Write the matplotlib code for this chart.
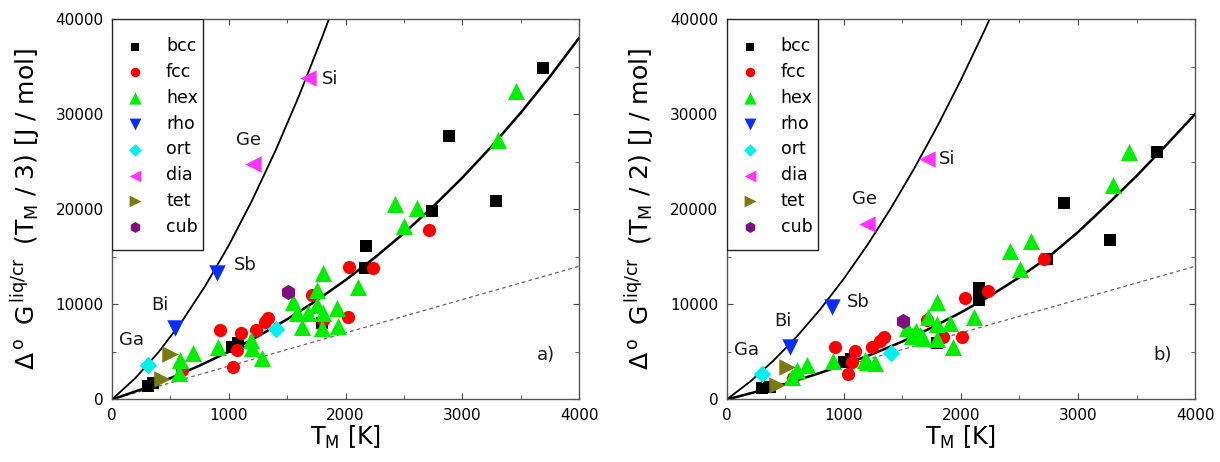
import matplotlib
matplotlib.use("Agg")
import matplotlib.pyplot as plt
from matplotlib.patches import Rectangle
from matplotlib.ticker import MultipleLocator

plt.rcParams["font.family"] = ["DejaVu Sans"]
plt.rcParams["mathtext.default"] = "regular"

# ---- panel a) : Delta G at T_M / 3 ----
bcc_a_T = [311, 354, 1025, 1082, 1796, 2167, 2173, 2738, 2889, 3286, 3689]
bcc_a_G = [1450, 1700, 5540, 5890, 7990, 13870, 16100, 19810, 27680, 20900, 34860]
fcc_a_T = [597, 925, 1039, 1068, 1105, 1231, 1311, 1339, 1713, 1810, 2024, 2033, 2233, 2718]
fcc_a_G = [3100, 7290, 3400, 5190, 6950, 7290, 8160, 8520, 11000, 8340, 8690, 13935, 13870, 17790]
hex_a_T = [577, 582, 691, 911, 1188, 1196, 1288, 1553, 1753, 1810, 1753, 1582, 1682, 1804,
           1930, 1625, 1796, 1939, 2110, 2424, 2610, 2501, 3309, 3460]
hex_a_G = [2810, 4150, 4840, 5540, 6240, 5370, 4320, 10270, 11490, 13310, 9920, 9040, 9040, 9040,
           9570, 7640, 7470, 7750, 11840, 20580, 20160, 18200, 27230, 32480]
rho_a_T = [539, 896]
rho_a_G = [7470, 13300]
ort_a_T = [308, 1404]
ort_a_G = [3580, 7420]
dia_a_T = [1210, 1681]
dia_a_G = [24800, 33840]
tet_a_T = [497, 425]
tet_a_G = [4750, 2170]
cub_a_T = [1510]
cub_a_G = [11310]

# ---- panel b) : Delta G at T_M / 2 ----
bcc_b_T = [299, 370, 1002, 1060, 1796, 2158, 2158, 2733, 2878, 3274, 3673]
bcc_b_G = [1180, 1340, 3970, 4300, 5950, 11770, 10440, 14810, 20620, 16740, 26000]
fcc_b_T = [570, 925, 1039, 1067, 1096, 1240, 1311, 1339, 1708, 1850, 2007, 2036, 2235, 2710]
fcc_b_G = [2300, 5480, 2680, 3970, 5120, 5480, 6150, 6530, 8340, 6590, 6590, 10620, 11420, 14810]
hex_b_T = [560, 598, 689, 905, 1181, 1200, 1270, 1537, 1580, 1620, 1651, 1679, 1722, 1794,
           1794, 1794, 1907, 1935, 2110, 2420, 2505, 2599, 3302, 3439]
hex_b_G = [2400, 3100, 3620, 4070, 4200, 3900, 3800, 7500, 6700, 7200, 6770, 6420, 8690, 7900,
           6400, 10270, 8000, 5540, 8690, 15610, 13770, 16660, 22510, 26000]
rho_b_T = [541, 897]
rho_b_G = [5540, 9740]
ort_b_T = [304, 1402]
ort_b_G = [2680, 4910]
dia_b_T = [1196, 1708]
dia_b_G = [18490, 25310]
tet_b_T = [512, 432]
tet_b_G = [3440, 1520]
cub_b_T = [1508]
cub_b_G = [8270]

# ---- fitted curves ----
curve_T = [0, 250, 500, 750, 1000, 1250, 1500, 1750, 2000, 2250, 2500, 2750, 3000,
           3250, 3500, 3750, 4000]
lower_a_G = [0, 1060, 2240, 3560, 5020, 6640, 8430, 10390, 12550, 14910, 17480, 20280,
             23310, 26590, 30130, 33930, 38000]
lower_b_G = [0, 800, 1650, 2600, 3650, 4800, 6100, 7550, 9150, 10900, 12850, 15000,
             17600, 20500, 23500, 26700, 30000]
upper_a_T = [0, 200, 400, 600, 800, 1000, 1200, 1400, 1600, 1800, 1900]
upper_a_G = [0, 2250, 4990, 8230, 11970, 16200, 20930, 26150, 31870, 38090, 41380]
upper_b_T = [0, 200, 400, 600, 800, 1000, 1200, 1400, 1600, 1800, 2000, 2200, 2300]
upper_b_G = [0, 1880, 4100, 6640, 9500, 12700, 16220, 20080, 24260, 28760, 33600, 38760, 41470]
dash_T = [0, 4000]
dash_G = [0, 14000]

labels_a = {"Ga": (169, 6240), "Bi": (411, 9920), "Sb": (1139, 14110),
            "Ge": (1168, 27230), "Si": (1867, 33700)}
labels_b = {"Ga": (171, 5190), "Bi": (483, 8270), "Sb": (1124, 10270),
            "Ge": (1174, 21110), "Si": (1879, 25300)}

styles = [
    ("bcc", "s", "#000000", 75),
    ("fcc", "o", "#ff0000", 90),
    ("hex", "^", "#00ee00", 150),
    ("rho", "v", "#0a2cff", 140),
    ("ort", "D", "#00f0f0", 80),
    ("dia", "<", "#ff33ff", 140),
    ("tet", ">", "#7a7a10", 140),
    ("cub", "h", "#7f1080", 120),
]


def draw_panel(ax, data, upper_T, upper_G, lower_G, labels, panel, ylab):
    ax.plot(upper_T, upper_G, color="black", lw=1.3, zorder=2)
    ax.plot(curve_T, lower_G, color="black", lw=1.8, zorder=2)
    ax.plot(dash_T, dash_G, color="#666666", lw=0.9, ls=(0, (3, 2.5)), zorder=1)
    for (name, mk, col, sz), (T, G) in zip(styles, data):
        ax.scatter(T, G, marker=mk, s=sz, c=col, linewidths=0, label=name, zorder=3)
    for txt, (x, y) in labels.items():
        ax.text(x, y, txt, fontsize=13, ha="center", va="center", color="#1a1a1a")
    ax.text(3720, 4670, panel, fontsize=13, ha="center", va="center", color="#1a1a1a")

    ax.set_xlim(0, 4000)
    ax.set_ylim(0, 40000)
    ax.xaxis.set_major_locator(MultipleLocator(1000))
    ax.xaxis.set_minor_locator(MultipleLocator(500))
    ax.yaxis.set_major_locator(MultipleLocator(10000))
    ax.yaxis.set_minor_locator(MultipleLocator(5000))
    ax.tick_params(which="both", direction="in", top=True, right=True,
                   labelsize=11, color="#444444", pad=6)
    ax.tick_params(which="major", length=4.5)
    ax.tick_params(which="minor", length=3)
    for sp in ax.spines.values():
        sp.set_color("#555555")
        sp.set_linewidth(1.0)

    ax.set_xlabel(r"T$_{\rm M}$ [K]", fontsize=17, labelpad=1)
    ax.set_ylabel(ylab, fontsize=18)
    ax.yaxis.set_label_coords(-0.148, 0.5)

    # legend box hugs the top-left corner of the axes
    ax.add_patch(Rectangle((0, 1 - 0.608), 0.195, 0.608, transform=ax.transAxes,
                           facecolor="white", edgecolor="#222222", lw=1.0, zorder=4))
    leg = ax.legend(loc="upper left", bbox_to_anchor=(0.008, 0.966), borderaxespad=0,
                    frameon=False, fontsize=12.5, markerscale=0.72, scatterpoints=1,
                    handlelength=1.6, handletextpad=1.0, labelspacing=0.45,
                    borderpad=0.3)
    leg.set_zorder(5)


fig = plt.figure(figsize=(12.2, 4.62), dpi=100)
ax_a = fig.add_axes([0.0918, 0.1353, 0.3828, 0.8236])
ax_b = fig.add_axes([0.5957, 0.1353, 0.3839, 0.8236])

data_a = [(bcc_a_T, bcc_a_G), (fcc_a_T, fcc_a_G), (hex_a_T, hex_a_G), (rho_a_T, rho_a_G),
          (ort_a_T, ort_a_G), (dia_a_T, dia_a_G), (tet_a_T, tet_a_G), (cub_a_T, cub_a_G)]
data_b = [(bcc_b_T, bcc_b_G), (fcc_b_T, fcc_b_G), (hex_b_T, hex_b_G), (rho_b_T, rho_b_G),
          (ort_b_T, ort_b_G), (dia_b_T, dia_b_G), (tet_b_T, tet_b_G), (cub_b_T, cub_b_G)]

draw_panel(ax_a, data_a, upper_a_T, upper_a_G, lower_a_G, labels_a, "a)",
           r"$\Delta^{\,o}\;\;$G$^{\,liq/cr}\;\;$(T$_{\rm M}$ / 3) [J / mol]")
draw_panel(ax_b, data_b, upper_b_T, upper_b_G, lower_b_G, labels_b, "b)",
           r"$\Delta^{\,o}\;\;$G$^{\,liq/cr}\;\;$(T$_{\rm M}$ / 2) [J / mol]")

fig.savefig("out.png", dpi=100)
plt.close(fig)
